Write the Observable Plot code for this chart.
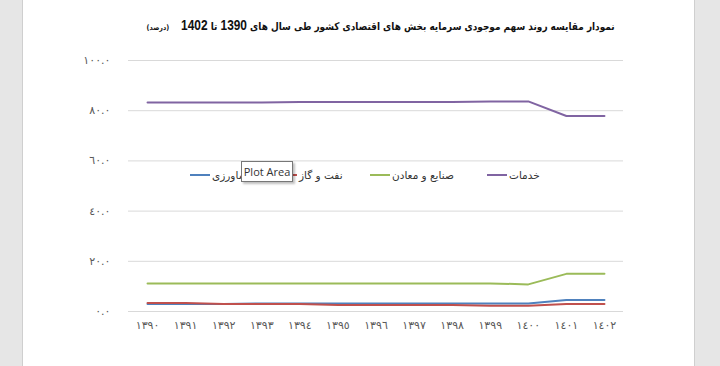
<!DOCTYPE html>
<html>
<head>
<meta charset="utf-8">
<script src="https://cdn.jsdelivr.net/npm/d3@7"></script>
<script src="https://cdn.jsdelivr.net/npm/@observablehq/plot@0.6"></script>
<style>
  html, body { margin: 0; padding: 0; background: #fff; }
  #wrap { position: relative; width: 720px; height: 366px; overflow: hidden; background: #fff; }
  .strip { position: absolute; top: 0; height: 366px; background: #e6e6e6; }
  #title { position: absolute; top: 17px; right: 105px; direction: rtl; white-space: nowrap;
           font-family: "DejaVu Sans", sans-serif; font-weight: bold; font-size: 10.5px; color: #111;
           transform: scaleX(0.85); transform-origin: right center; }
  #title .num { font-family: "Liberation Sans", Arial, sans-serif; font-size: 14px; }
  #title .unit { font-size: 7.5px; font-weight: bold; margin-right: 14px; }
  .item { position: absolute; top: 169px; display: flex; align-items: center; gap: 2px; white-space: nowrap;
          font-family: "DejaVu Sans", sans-serif; font-size: 10.5px; color: #333; }
  .swatch { width: 20px; height: 2px; }
  #tip { position: absolute; left: 241px; top: 161px; width: 50px; height: 19px; background: #fff;
         border: 1px solid #777; box-shadow: 2px 2px 2px rgba(0,0,0,0.25);
         font-family: "Open Sans", "DejaVu Sans", sans-serif; font-size: 11px; color: #333;
         line-height: 19px; text-align: center; }
  svg { position: absolute; left: 0; top: 0; }
</style>
</head>
<body>
<div id="wrap">
  <div class="strip" style="left:0;width:22px;border-right:1px solid #cfcfcf;"></div>
  <div class="strip" style="left:694px;width:26px;border-left:1px solid #cfcfcf;"></div>
</div>
<script>
// ---- data ----
const years = [1390, 1391, 1392, 1393, 1394, 1395, 1396, 1397, 1398, 1399, 1400, 1401, 1402];
const yearLabels = ["١٣٩٠","١٣٩١","١٣٩٢","١٣٩٣","١٣٩٤","١٣٩٥","١٣٩٦","١٣٩٧","١٣٩٨","١٣٩٩","١٤٠٠","١٤٠١","١٤٠٢"];
const yTicks = [0, 20, 40, 60, 80, 100];
const yTickLabels = ["٠.٠","٢٠.٠","٤٠.٠","٦٠.٠","٨٠.٠","١٠٠.٠"];

const seriesNames = ["کشاورزی", "نفت و گاز", "صنایع و معادن", "خدمات"];
const seriesColors = ["#4f81bd", "#c0504d", "#9bbb59", "#8064a2"];

const agriculture = [3.0, 3.0, 3.0, 3.2, 3.2, 3.2, 3.2, 3.2, 3.2, 3.2, 3.2, 4.6, 4.6];
const oilGas      = [3.4, 3.4, 3.0, 3.0, 3.0, 2.6, 2.6, 2.6, 2.6, 2.3, 2.3, 3.0, 3.0];
const industry    = [11.2, 11.2, 11.2, 11.2, 11.2, 11.2, 11.2, 11.2, 11.2, 11.2, 10.8, 15.0, 15.0];
const services    = [83.3, 83.3, 83.3, 83.3, 83.5, 83.5, 83.5, 83.5, 83.5, 83.7, 83.7, 77.9, 77.9];

const titleText = "نمودار مقایسه روند سهم موجودی سرمایه بخش های اقتصادی کشور طی سال های";
const titleFrom = "1390";
const titleMid = "تا";
const titleTo = "1402";
const unitText = "(درصد)";
const tipText = "Plot Area";

// ---- build ----
const seriesValues = [agriculture, oilGas, industry, services];
const drawOrder = [3, 2, 0, 1];
const rows = [];
for (const s of drawOrder) {
  years.forEach((y, i) => rows.push({year: y, value: seriesValues[s][i], series: seriesNames[s]}));
}

const chart = Plot.plot({
  width: 720,
  height: 366,
  marginLeft: 128,
  marginRight: 97,
  marginTop: 60,
  marginBottom: 55,
  style: {fontFamily: "DejaVu Sans, sans-serif", fontSize: "11px", color: "#595959", background: "transparent"},
  x: {domain: [1389.5, 1402.5], axis: null},
  y: {domain: [0, 100], axis: null},
  color: {domain: seriesNames, range: seriesColors},
  marks: [
    Plot.ruleY(yTicks, {stroke: "#d9d9d9", strokeWidth: 1}),
    Plot.axisY({ticks: yTicks, tickSize: 0, tickPadding: 18, anchor: "left", label: null,
      tickFormat: d => yTickLabels[yTicks.indexOf(d)], fill: "#595959", fontSize: 11}),
    Plot.axisX({ticks: years, tickSize: 0, tickPadding: 10, anchor: "bottom", label: null,
      tickFormat: d => yearLabels[years.indexOf(d)], fill: "#595959", fontSize: 11}),
    Plot.line(rows, {x: "year", y: "value", z: "series", stroke: "series", strokeWidth: 2})
  ]
});

const wrap = document.getElementById("wrap");
wrap.appendChild(chart);

const title = document.createElement("div");
title.id = "title";
title.innerHTML = `${titleText} <span class="num">${titleFrom}</span> ${titleMid} <span class="num">${titleTo}</span><span class="unit">${unitText}</span>`;
wrap.appendChild(title);

// legend entries placed like the original (marker left of its label)
const legendLeft = [190, 277, 370, 487];
seriesNames.forEach((n, i) => {
  const it = document.createElement("div");
  it.className = "item";
  it.style.left = legendLeft[i] + "px";
  const sw = document.createElement("div");
  sw.className = "swatch";
  sw.style.background = seriesColors[i];
  const tx = document.createElement("span");
  tx.textContent = n;
  it.appendChild(sw);
  it.appendChild(tx);
  wrap.appendChild(it);
});

const tip = document.createElement("div");
tip.id = "tip";
tip.textContent = tipText;
wrap.appendChild(tip);
</script>
</body>
</html>
